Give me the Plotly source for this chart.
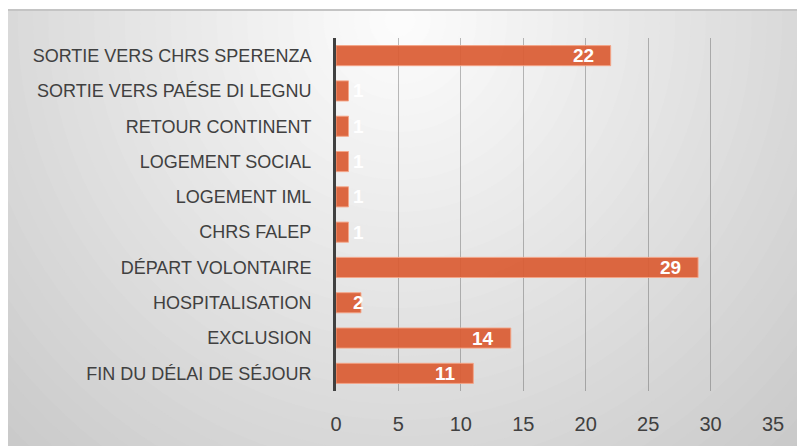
import plotly.graph_objects as go

categories = [
    "FIN DU DÉLAI DE SÉJOUR",
    "EXCLUSION",
    "HOSPITALISATION",
    "DÉPART VOLONTAIRE",
    "CHRS FALEP",
    "LOGEMENT IML",
    "LOGEMENT SOCIAL",
    "RETOUR CONTINENT",
    "SORTIE VERS PAÉSE DI LEGNU",
    "SORTIE VERS CHRS SPERENZA",
]
values = [11, 14, 2, 29, 1, 1, 1, 1, 1, 22]
x_ticks = [0, 5, 10, 15, 20, 25, 30, 35]

# page body adds an 8px margin, so the figure is sized/offset accordingly
OFF = 8
W, H = 805 - OFF, 446 - OFF
L, R, T = 336 - OFF, 32, 38 - OFF
B = H - (391 - OFF)
pw, ph = W - L - R, H - T - B


def px(x):
    return (x - OFF - L) / pw


def py(y):
    return (H - B - (y - OFF)) / ph


fig = go.Figure()
fig.add_trace(go.Bar(
    y=categories,
    x=values,
    orientation="h",
    marker=dict(color="rgba(218,93,52,0.93)",
                line=dict(color="rgba(245,165,135,0.9)", width=1)),
    hoverinfo="skip",
))

# data labels
annotations = []
for c, v in zip(categories, values):
    if v >= 5:
        annotations.append(dict(x=v, y=c, xref="x", yref="y", text=f"<b>{v}</b>",
                                showarrow=False, xanchor="right", xshift=-15,
                                font=dict(color="white", size=19, family="Liberation Sans")))
    else:
        annotations.append(dict(x=0, y=c, xref="x", yref="y", text=f"<b>{v}</b>",
                                showarrow=False, xanchor="left", xshift=15,
                                font=dict(color="white", size=19, family="Liberation Sans")))

# radial gradient background (screen pixel coordinates)
shapes = []
cx, cy, rx, ry = 400, 20, 430, 450
N = 45
for k in range(N, 0, -1):
    r = 1.6 * k / N
    g = int(max(198, min(254, 254 - 39 * r)))
    col = f"rgb({g},{g},{g})"
    shapes.append(dict(type="circle", xref="paper", yref="paper",
                       x0=px(cx - r * rx), x1=px(cx + r * rx),
                       y0=py(cy + r * ry), y1=py(cy - r * ry),
                       fillcolor=col, line=dict(width=0), layer="below"))
# white top strip and thin top line
shapes.append(dict(type="rect", xref="paper", yref="paper", x0=px(-20), x1=px(830),
                   y0=py(9), y1=py(-20), fillcolor="white", line=dict(width=0), layer="below"))
shapes.append(dict(type="rect", xref="paper", yref="paper", x0=px(-20), x1=px(6),
                   y0=py(470), y1=py(-20), fillcolor="white", line=dict(width=0), layer="below"))
shapes.append(dict(type="rect", xref="paper", yref="paper", x0=px(6), x1=px(830),
                   y0=py(11), y1=py(9), fillcolor="#c4c4c4", line=dict(width=0), layer="below"))

fig.update_layout(
    width=W, height=H,
    margin=dict(l=L, r=R, t=T, b=B, pad=0),
    paper_bgcolor="white",
    plot_bgcolor="rgba(0,0,0,0)",
    bargap=0.43,
    showlegend=False,
    shapes=shapes,
    annotations=annotations,
    xaxis=dict(range=[0, 35], tickvals=x_ticks, ticktext=[str(t) for t in x_ticks],
               showgrid=True, gridcolor="rgba(80,80,80,0.38)", gridwidth=1.3,
               zeroline=False, showline=False, ticks="", ticklabelstandoff=19,
               tickfont=dict(family="Liberation Sans", size=20, color="#404040"),
               fixedrange=True),
    yaxis=dict(showline=True, linecolor="#404040", linewidth=3, showgrid=False,
               ticks="", ticklabelstandoff=18,
               tickfont=dict(family="Liberation Sans", size=18, color="#404040"),
               fixedrange=True),
)

fig.write_html("out.html")
